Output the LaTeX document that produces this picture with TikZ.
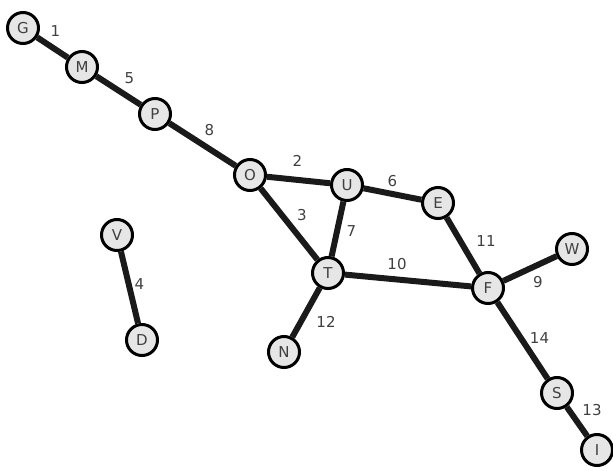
\documentclass[tikz,border=0pt]{standalone}
\usepackage{fontspec}
\setmainfont{DejaVu Sans}
\definecolor{vfill}{HTML}{E6E6E6}
\definecolor{vtext}{HTML}{404040}
\definecolor{ink}{HTML}{1A1A1A}
\tikzset{
    vertex/.style={circle, draw=black, line width=3pt, fill=vfill,
                   minimum size=31pt, inner sep=0pt, text=vtext,
                   font=\fontsize{15}{17}\selectfont},
    link/.style={draw=ink, line width=6pt},
    wt/.style={text=vtext, inner sep=0pt, font=\fontsize{15}{17}\selectfont},
}
\begin{document}
\begin{tikzpicture}[x=1pt, y=-1pt]
    \useasboundingbox (0,0) rectangle (613,471);

    \node[vertex] (G) at (23,28) {G};
    \node[vertex] (M) at (82,67) {M};
    \node[vertex] (P) at (155,114) {P};
    \node[vertex] (O) at (250,175) {O};
    \node[vertex] (U) at (347,185) {U};
    \node[vertex] (E) at (438,203) {E};
    \node[vertex] (V) at (117,235) {V};
    \node[vertex] (T) at (328,273) {T};
    \node[vertex] (F) at (488,288) {F};
    \node[vertex] (W) at (572,249) {W};
    \node[vertex] (D) at (142,340) {D};
    \node[vertex] (N) at (284,352) {N};
    \node[vertex] (S) at (557,393) {S};
    \node[vertex] (I) at (597,450) {I};

    \draw[link] (G) -- node[wt, xshift=3, yshift=16] {1} (M);
    \draw[link] (M) -- node[wt, xshift=11, yshift=12] {5} (P);
    \draw[link] (P) -- node[wt, xshift=7, yshift=14] {8} (O);
    \draw[link] (O) -- node[wt, xshift=-1, yshift=19] {2} (U);
    \draw[link] (U) -- node[wt, xshift=0, yshift=13] {6} (E);
    \draw[link] (O) -- node[wt, xshift=13, yshift=9] {3} (T);
    \draw[link] (U) -- node[wt, xshift=14, yshift=-2] {7} (T);
    \draw[link] (E) -- node[wt, xshift=23, yshift=4] {11} (F);
    \draw[link] (T) -- node[wt, xshift=-11, yshift=16] {10} (F);
    \draw[link] (F) -- node[wt, xshift=8, yshift=-14] {9} (W);
    \draw[link] (V) -- node[wt, xshift=10, yshift=3] {4} (D);
    \draw[link] (T) -- node[wt, xshift=20, yshift=-9] {12} (N);
    \draw[link] (F) -- node[wt, xshift=17, yshift=2] {14} (S);
    \draw[link] (S) -- node[wt, xshift=15, yshift=11] {13} (I);

\end{tikzpicture}
\end{document}
